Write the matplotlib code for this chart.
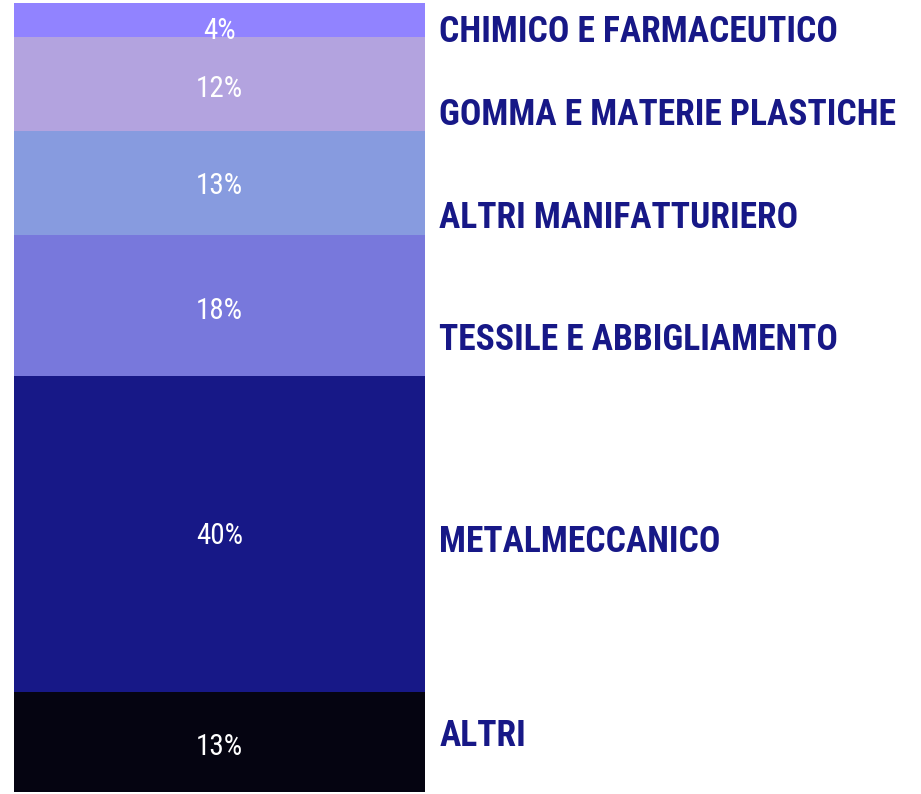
import matplotlib
matplotlib.use("Agg")
import matplotlib.pyplot as plt

# Data (bottom to top)
categories = ["ALTRI", "METALMECCANICO", "TESSILE E ABBIGLIAMENTO",
              "ALTRI MANIFATTURIERO", "GOMMA E MATERIE PLASTICHE",
              "CHIMICO E FARMACEUTICO"]
values = [12.7, 40.0, 17.9, 13.2, 11.9, 4.3]
value_labels = ["13%", "40%", "18%", "13%", "12%", "4%"]
colors = ["#050411", "#171887", "#7878DC", "#879BDF", "#B3A3DF", "#9183FF"]
# label offsets (in % units) relative to segment centre
name_offsets = [0.8, -1.0, -4.3, -4.5, -3.9, -1.5]
pct_offsets = [-0.7, -0.3, -0.7, -0.4, -0.7, -1.4]

fig = plt.figure(figsize=(9.21, 7.94), dpi=100)
ax = fig.add_axes([14 / 921, 2 / 794, 411 / 921, 789 / 794])

bottom = 0.0
for cat, v, lab, c, no, po in zip(categories, values, value_labels, colors,
                                  name_offsets, pct_offsets):
    ax.bar(0, v, bottom=bottom, width=1.0, color=c, edgecolor="none")
    centre = bottom + v / 2
    ax.text(0, centre + po, lab, ha="center", va="center", color="white",
            fontsize=21, family="Roboto Condensed", fontweight=400)
    ax.text(0.535, centre + no, cat, ha="left", va="center", color="#171887",
            fontsize=25.6, family="Roboto Condensed", fontweight="bold",
            clip_on=False)
    bottom += v

ax.set_xlim(-0.5, 0.5)
ax.set_ylim(0, bottom)
ax.axis("off")
fig.savefig("out.png", dpi=100)
